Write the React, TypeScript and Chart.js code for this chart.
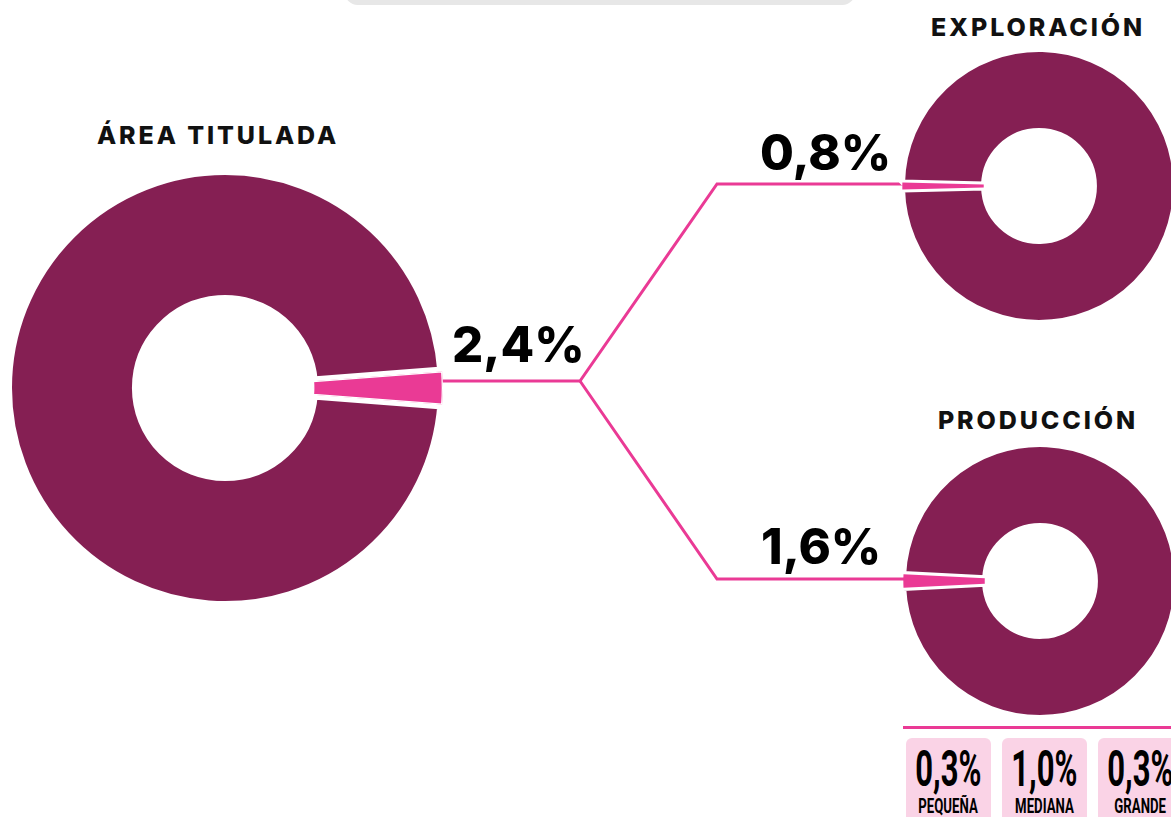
import React, { useEffect, useRef } from "react";
import { Chart, registerables } from "chart.js";

Chart.register(...registerables);

const MAROON = "#851F53";
const PINK = "#EA3A95";
const BOX_BG = "#FAD3E6";

// Data
const donutTitles = ["ÁREA TITULADA", "EXPLORACIÓN", "PRODUCCIÓN"];
const donutShares = [2.4, 0.8, 1.6];
const donutSliceDirections = [0, 180, 180]; // degrees, 0 = pointing right
const sizeLabels = ["PEQUEÑA", "MEDIANA", "GRANDE"];
const sizeShares = [0.3, 1.0, 0.3];

const fmt = (v: number) => v.toFixed(1).replace(".", ",") + "%";

type DonutProps = {
  share: number;
  direction: number;
  size: number;
  border: number;
  innerBorder: number;
  cutout: string;
  left: number;
  top: number;
};

function Donut({ share, direction, size, border, innerBorder, cutout, left, top }: DonutProps) {
  const ref = useRef<HTMLCanvasElement>(null);
  useEffect(() => {
    const chart = new Chart(ref.current as HTMLCanvasElement, {
      type: "doughnut",
      data: {
        labels: ["Resto", "Área"],
        datasets: [
          {
            data: [100 - share, share],
            backgroundColor: [MAROON, PINK],
            borderColor: ["#ffffff", "#ffffff"],
            borderWidth: [border, innerBorder],
            borderAlign: ((c: any) => (c.dataIndex === 1 ? "inner" : "center")) as any,
          },
        ],
      },
      options: {
        responsive: false,
        animation: false,
        cutout,
        rotation: 90 + direction + share * 1.8,
        events: [],
        plugins: { legend: { display: false }, tooltip: { enabled: false } },
      },
    });
    return () => chart.destroy();
  }, []);
  return (
    <canvas
      ref={ref}
      width={size}
      height={size}
      style={{ position: "absolute", left, top, width: size, height: size }}
    />
  );
}

const titleStyle: React.CSSProperties = {
  position: "absolute",
  fontFamily: "Inter, 'Noto Sans', sans-serif",
  fontWeight: 800,
  fontSize: 25,
  lineHeight: "25px",
  letterSpacing: 2.9,
  color: "#111",
  textAlign: "center",
  whiteSpace: "nowrap",
};

const pctStyle: React.CSSProperties = {
  position: "absolute",
  fontFamily: "Inter, 'Noto Sans', sans-serif",
  fontWeight: 800,
  fontSize: 49,
  lineHeight: "49px",
  color: "#000",
  whiteSpace: "nowrap",
};

export default function App() {
  return (
    <div
      style={{
        position: "absolute",
        left: 0,
        top: 0,
        width: 1171,
        height: 817,
        overflow: "hidden",
        background: "#fff",
      }}
    >
      {/* top grey bar */}
      <div
        style={{
          position: "absolute",
          left: 345,
          top: -20,
          width: 510,
          height: 25,
          borderRadius: 18,
          background: "#E7E7E7",
        }}
      />

      {/* connectors */}
      <svg
        width={1171}
        height={817}
        style={{ position: "absolute", left: 0, top: 0 }}
      >
        <polyline
          points="436,381 580,381 717,184 905,184"
          fill="none"
          stroke={PINK}
          strokeWidth={3}
        />
        <polyline
          points="580,381 717,579 905,579"
          fill="none"
          stroke={PINK}
          strokeWidth={3}
        />
      </svg>

      <Donut share={donutShares[0]} direction={donutSliceDirections[0]} size={446} border={10} innerBorder={1} cutout="40.4%" left={2} top={165} />
      <Donut share={donutShares[1]} direction={donutSliceDirections[1]} size={280} border={6} innerBorder={0} cutout="40.1%" left={899} top={46} />
      <Donut share={donutShares[2]} direction={donutSliceDirections[2]} size={280} border={6} innerBorder={0} cutout="40.1%" left={900} top={441} />

      {/* titles */}
      <div style={{ ...titleStyle, left: 0, width: 436, top: 123 }}>{donutTitles[0]}</div>
      <div style={{ ...titleStyle, left: 905, width: 266, top: 15 }}>{donutTitles[1]}</div>
      <div style={{ ...titleStyle, left: 905, width: 266, top: 408 }}>{donutTitles[2]}</div>

      {/* percentages */}
      <div style={{ ...pctStyle, left: 452, top: 320 }}>{fmt(donutShares[0])}</div>
      <div style={{ ...pctStyle, left: 760, top: 128 }}>{fmt(donutShares[1])}</div>
      <div style={{ ...pctStyle, left: 761, top: 522 }}>{fmt(donutShares[2])}</div>

      {/* size breakdown */}
      <div style={{ position: "absolute", left: 903, top: 726, width: 268, height: 3, background: PINK }} />
      {sizeShares.map((v, i) => (
        <div
          key={i}
          style={{
            position: "absolute",
            left: 906 + i * 96,
            top: 738,
            width: 85,
            height: 100,
            borderRadius: 6,
            background: BOX_BG,
            textAlign: "center",
            fontFamily: "Roboto, 'Liberation Sans', sans-serif",
            fontWeight: 700,
            color: "#000",
          }}
        >
          <div style={{ position: "absolute", left: -20, width: 125, top: 6, fontSize: 50, lineHeight: "50px" }}>
            <span style={{ display: "inline-block", transform: "scaleX(0.62)", transformOrigin: "center" }}>{fmt(v)}</span>
          </div>
          <div style={{ position: "absolute", left: -20, width: 125, top: 58, fontSize: 20, lineHeight: "20px" }}>
            <span style={{ display: "inline-block", transform: "scaleX(0.66)", transformOrigin: "center" }}>{sizeLabels[i]}</span>
          </div>
        </div>
      ))}
    </div>
  );
}
